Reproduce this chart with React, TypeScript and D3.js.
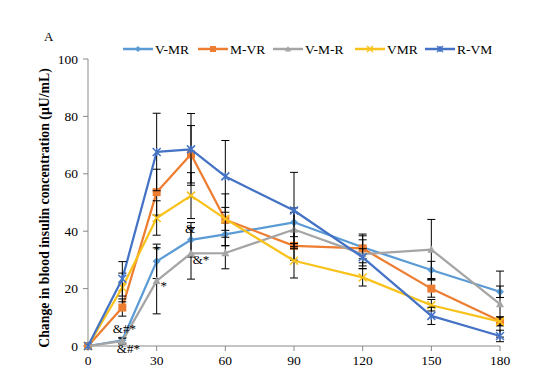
import React from 'react';
import * as d3 from 'd3';

// sampling times (min)
const times = [0, 15, 30, 45, 60, 90, 120, 150, 180];
const seriesNames = ['V-MR', 'M-VR', 'V-M-R', 'VMR', 'R-VM'];
const seriesColors = ['#5b9bd5', '#ed7d31', '#a5a5a5', '#f8c21a', '#4472c4'];
const seriesMarkers = ['diamond', 'square', 'triangle', 'x', 'star'];

const vmr1 = [0, 2, 29.5, 37, 38.9, 43.1, 34.4, 26.5, 18.9];
const mvr = [0, 13.4, 53.6, 66.8, 44, 34.9, 34, 20, 8.7];
const vmr2 = [0, 1.7, 22.7, 32.3, 32.4, 40.6, 32, 33.6, 14.6];
const vmr3 = [0, 20.4, 44.6, 52.4, 44.3, 29.7, 23.9, 14.2, 8.5];
const rvm = [0, 23.4, 67.6, 68.5, 59.1, 47.2, 30.9, 10.5, 3.5];

// error bar half-widths
const vmr1Err = [0, 1, 6, 6, 4, 5, 4, 3, 2];
const mvrErr = [0, 3, 8, 10, 9, 5, 5, 3, 1.5];
const vmr2Err = [0, 1, 11.5, 9, 5.5, 6, 5, 10.5, 11.5];
const vmr3Err = [0, 5, 6, 8, 4, 6, 3, 2, 1.5];
const rvmErr = [0, 6, 13.5, 12.5, 12.5, 13.3, 3, 3, 2];

const allValues = [vmr1, mvr, vmr2, vmr3, rvm];
const allErrs = [vmr1Err, mvrErr, vmr2Err, vmr3Err, rvmErr];

const yTicks = [0, 20, 40, 60, 80, 100];
const xTicks = [0, 30, 60, 90, 120, 150, 180];

// significance marks: [time, value, text, dx]
const notes: [number, number, string, number][] = [
  [15, 4.5, '&#*', 2],
  [15, -2.5, '&#*', 6],
  [30, 32, '*', 0],
  [30, 19.5, '*', 7],
  [45, 39.5, '&', -1],
  [45, 28.5, '&*', 10],
];

const font = '"Liberation Serif", "Times New Roman", Times, serif';

function Marker({ type, x, y, color, s }: { type: string; x: number; y: number; color: string; s: number }) {
  if (type === 'diamond')
    return <path d={`M${x},${y - s}L${x + s},${y}L${x},${y + s}L${x - s},${y}Z`} fill={color} />;
  if (type === 'square')
    return <rect x={x - s} y={y - s} width={s * 2} height={s * 2} fill={color} />;
  if (type === 'triangle')
    return <path d={`M${x},${y - s}L${x + s},${y + s * 0.8}L${x - s},${y + s * 0.8}Z`} fill={color} />;
  if (type === 'x')
    return <path d={`M${x - s},${y - s}L${x + s},${y + s}M${x - s},${y + s}L${x + s},${y - s}`} stroke={color} strokeWidth={1.5} />;
  return (
    <path
      d={`M${x - s},${y - s}L${x + s},${y + s}M${x - s},${y + s}L${x + s},${y - s}M${x},${y - s}L${x},${y + s}`}
      stroke={color}
      strokeWidth={1.5}
    />
  );
}

export default function App() {
  const x = d3.scaleLinear().domain([0, 180]).range([88, 500]);
  const y = d3.scaleLinear().domain([0, 100]).range([346, 59]);
  const line = d3.line<number>().x((_, i) => x(times[i])).y(d => y(d));

  const legendX = [123, 198, 273, 355, 425];

  return (
    <svg width={556} height={371} style={{ position: 'absolute', left: 0, top: 0, background: '#fff' }} fontFamily={font}>
      <text x={44} y={41} fontSize={13}>A</text>

      {/* legend */}
      {seriesNames.map((n, i) => (
        <g key={n}>
          <line x1={legendX[i]} x2={legendX[i] + 30} y1={49} y2={49} stroke={seriesColors[i]} strokeWidth={2.5} />
          <Marker type={seriesMarkers[i]} x={legendX[i] + 15} y={49} color={seriesColors[i]} s={3} />
          <text x={legendX[i] + 32} y={54} fontSize={13.5}>{n}</text>
        </g>
      ))}

      {/* axes */}
      <line x1={88} x2={88} y1={y(100)} y2={y(0)} stroke="#898989" />
      <line x1={88} x2={500} y1={y(0)} y2={y(0)} stroke="#898989" />
      {yTicks.map(t => (
        <g key={t}>
          <line x1={83} x2={88} y1={y(t)} y2={y(t)} stroke="#898989" />
          <text x={78} y={y(t) + 4.5} fontSize={13.5} textAnchor="end">{t}</text>
        </g>
      ))}
      {xTicks.map(t => (
        <g key={t}>
          <line x1={x(t)} x2={x(t)} y1={y(0)} y2={y(0) + 5} stroke="#898989" />
          <text x={x(t)} y={365} fontSize={13.5} textAnchor="middle">{t}</text>
        </g>
      ))}
      <text
        transform={`translate(49,208) rotate(-90)`}
        textAnchor="middle"
        fontSize={13.8}
        fontWeight="bold"
      >
        Change in blood insulin concentration (μU/mL)
      </text>

      {/* series */}
      {allValues.map((vals, si) => (
        <g key={si}>
          <path d={line(vals) || ''} fill="none" stroke={seriesColors[si]} strokeWidth={2.25} strokeLinejoin="round" />
          {vals.map((v, i) =>
            allErrs[si][i] > 0 ? (
              <g key={i} stroke="#000" strokeWidth={1}>
                <line x1={x(times[i])} x2={x(times[i])} y1={y(v + allErrs[si][i])} y2={y(v - allErrs[si][i])} />
                <line x1={x(times[i]) - 4} x2={x(times[i]) + 4} y1={y(v + allErrs[si][i])} y2={y(v + allErrs[si][i])} />
                <line x1={x(times[i]) - 4} x2={x(times[i]) + 4} y1={y(v - allErrs[si][i])} y2={y(v - allErrs[si][i])} />
              </g>
            ) : null
          )}
          {vals.map((v, i) => (
            <Marker key={i} type={seriesMarkers[si]} x={x(times[i])} y={y(v)} color={seriesColors[si]} s={4} />
          ))}
        </g>
      ))}

      {notes.map(([t, v, s, dx], i) => (
        <text key={i} x={x(t) + dx} y={y(v)} fontSize={13} textAnchor="middle">{s}</text>
      ))}
    </svg>
  );
}
